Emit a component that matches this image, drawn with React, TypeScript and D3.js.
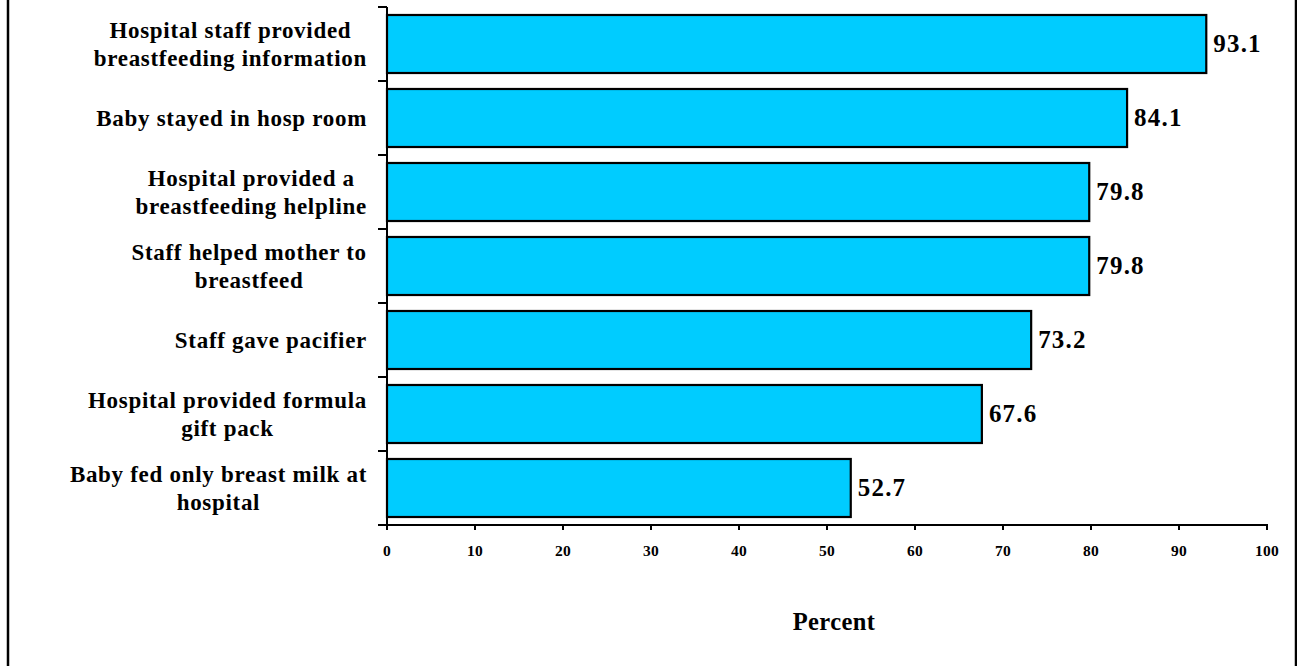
import React from "react";
import * as d3 from "d3";

const categories: string[][] = [
  ["Hospital staff provided", "breastfeeding information"],
  ["Baby stayed in hosp room"],
  ["Hospital provided a", "breastfeeding helpline"],
  ["Staff helped mother to", "breastfeed"],
  ["Staff gave pacifier"],
  ["Hospital provided formula", "gift pack"],
  ["Baby fed only breast milk at", "hospital"],
];
const values: number[] = [93.1, 84.1, 79.8, 79.8, 73.2, 67.6, 52.7];
const xTicks: number[] = [0, 10, 20, 30, 40, 50, 60, 70, 80, 90, 100];
const xTitle = "Percent";

const W = 1297;
const H = 666;
const FONT = "'Liberation Serif', 'Times New Roman', serif";
const CAT_FS = 23;
const CAT_LS = 0.7;

let ctx: CanvasRenderingContext2D | null = null;
function measure(text: string): number {
  if (!ctx) {
    const c = document.createElement("canvas");
    ctx = c.getContext("2d");
  }
  if (!ctx) return text.length * CAT_FS * 0.45;
  ctx.font = `bold ${CAT_FS}px ${FONT}`;
  return ctx.measureText(text).width + CAT_LS * text.length;
}

export default function App() {
  const left = 387;
  const right = 1267;
  const top = 7;
  const bottom = 525;

  const x = d3.scaleLinear().domain([0, 100]).range([left, right]);
  const idx = categories.map((_, i) => i);
  const y = d3
    .scaleBand<number>()
    .domain(idx)
    .range([top, bottom])
    .paddingInner(0.216)
    .paddingOuter(0.108);
  const step = y.step();
  const bandEdges = d3.range(categories.length + 1).map((i) => top + i * step);

  const labelRight = 367;
  const lineH = 28.4;

  return (
    <svg
      width={W}
      height={H}
      style={{ position: "absolute", left: 0, top: 0, background: "#fff" }}
      fontFamily={FONT}
    >
      <rect x={8} y={-10} width={1288} height={H + 20} fill="none" stroke="#000" strokeWidth={2.5} />

      {/* bars */}
      {values.map((v, i) => (
        <rect
          key={"b" + i}
          x={x(0)}
          y={y(i)!}
          width={x(v) - x(0)}
          height={y.bandwidth()}
          fill="#00CCFF"
          stroke="#000"
          strokeWidth={2.2}
        />
      ))}

      {/* value labels */}
      {values.map((v, i) => (
        <text
          key={"v" + i}
          x={x(v) + 7}
          y={y(i)! + y.bandwidth() / 2 + 8}
          fontSize={25}
          fontWeight="bold"
          letterSpacing={1.2}
          fill="#000"
        >
          {v.toFixed(1)}
        </text>
      ))}

      {/* y axis */}
      <line x1={left} x2={left} y1={top} y2={bottom} stroke="#000" strokeWidth={2} />
      {bandEdges.map((e, i) => (
        <line key={"yt" + i} x1={left - 9} x2={left} y1={e} y2={e} stroke="#000" strokeWidth={2} />
      ))}

      {/* x axis */}
      <line x1={left - 1} x2={right + 1} y1={bottom} y2={bottom} stroke="#000" strokeWidth={2} />
      {xTicks.map((t) => (
        <g key={"xt" + t}>
          <line x1={x(t)} x2={x(t)} y1={bottom} y2={bottom + 5} stroke="#000" strokeWidth={2} />
          <text
            x={x(t)}
            y={556}
            textAnchor="middle"
            fontSize={15.5}
            fontWeight="bold"
            letterSpacing={0.3}
            fill="#000"
          >
            {t}
          </text>
        </g>
      ))}

      {/* category labels */}
      {categories.map((lines, i) => {
        const maxW = Math.max(...lines.map(measure));
        const cx = labelRight - maxW / 2;
        const center = y(i)! + y.bandwidth() / 2;
        return (
          <text
            key={"c" + i}
            fontSize={CAT_FS}
            fontWeight="bold"
            letterSpacing={CAT_LS}
            textAnchor="middle"
            fill="#000"
          >
            {lines.map((ln, j) => (
              <tspan key={j} x={cx} y={center + 7.8 + (j - (lines.length - 1) / 2) * lineH}>
                {ln}
              </tspan>
            ))}
          </text>
        );
      })}

      <text x={834} y={630} textAnchor="middle" fontSize={24.5} fontWeight="bold" letterSpacing={0.4} fill="#000">
        {xTitle}
      </text>
    </svg>
  );
}
